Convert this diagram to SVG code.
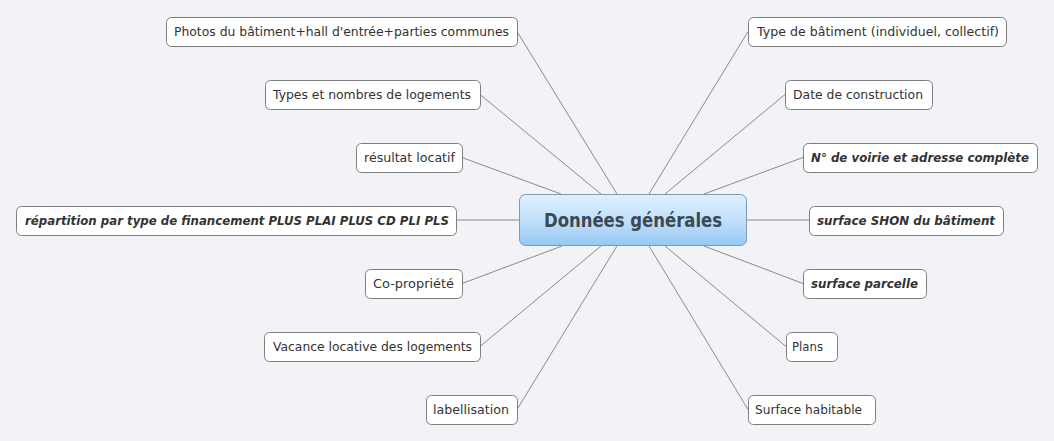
<svg xmlns="http://www.w3.org/2000/svg" width="1054" height="441" viewBox="0 0 1054 441">
<defs>
<linearGradient id="cg" x1="0" y1="0" x2="0" y2="1">
<stop offset="0" stop-color="#def0fd"/>
<stop offset="0.5" stop-color="#c2e0fa"/>
<stop offset="1" stop-color="#96c7f3"/>
</linearGradient>
</defs>
<style>
.bg{fill:#f1f3f6}
.box{fill:#ffffff;stroke:#7e7e7e;stroke-width:1}
.t{font-family:"DejaVu Sans","Noto Sans",sans-serif;font-size:13px;fill:#333333}
.bi{font-weight:bold;font-style:italic}
.cbox{fill:url(#cg);stroke:#7d9ab6;stroke-width:1}
.ct{font-family:"DejaVu Sans","Noto Sans",sans-serif;font-size:19px;font-weight:bold;fill:#3b4855}
.c line{stroke:#8a8a8a;stroke-width:1}
</style>
<rect class="bg" x="0" y="0" width="1054" height="441"/>
<g class="c" id="connectors">
<line x1="517" y1="31.5" x2="617" y2="194"/>
<line x1="480" y1="94.5" x2="601" y2="194"/>
<line x1="462" y1="157.5" x2="561" y2="194"/>
<line x1="456" y1="220" x2="519" y2="220"/>
<line x1="462" y1="283.5" x2="562" y2="246"/>
<line x1="480" y1="346.5" x2="601" y2="246"/>
<line x1="517" y1="409.5" x2="617" y2="246"/>
<line x1="748" y1="31.5" x2="649" y2="194"/>
<line x1="785" y1="94.5" x2="665" y2="194"/>
<line x1="803" y1="157.5" x2="704" y2="194"/>
<line x1="809" y1="220" x2="747" y2="220"/>
<line x1="803" y1="283.5" x2="704" y2="246"/>
<line x1="786" y1="346.5" x2="665" y2="246"/>
<line x1="748" y1="409.5" x2="649" y2="246"/>
</g>
<g id="center">
<rect class="cbox" x="519.5" y="194.5" width="227" height="51" rx="6"/>
<text class="ct" x="544" y="227" textLength="178" lengthAdjust="spacingAndGlyphs">Données générales</text>
</g>
<g id="n-photos">
<rect class="box" x="166.5" y="17.5" width="351" height="29" rx="5"/>
<text class="t" x="174" y="36" textLength="335" lengthAdjust="spacingAndGlyphs">Photos du bâtiment+hall d'entrée+parties communes</text>
</g>
<g id="n-types">
<rect class="box" x="265.5" y="80.5" width="215" height="29" rx="5"/>
<text class="t" x="273" y="99" textLength="198" lengthAdjust="spacingAndGlyphs">Types et nombres de logements</text>
</g>
<g id="n-resultat">
<rect class="box" x="356.5" y="143.5" width="106" height="29" rx="5"/>
<text class="t" x="364" y="162" textLength="91" lengthAdjust="spacingAndGlyphs">résultat locatif</text>
</g>
<g id="n-repartition">
<rect class="box" x="16.5" y="206.5" width="440" height="29" rx="5"/>
<text class="t bi" x="25" y="225" textLength="424" lengthAdjust="spacingAndGlyphs">répartition par type de financement PLUS PLAI PLUS CD PLI PLS</text>
</g>
<g id="n-copro">
<rect class="box" x="365.5" y="269.5" width="97" height="29" rx="5"/>
<text class="t" x="373" y="288" textLength="81" lengthAdjust="spacingAndGlyphs">Co-propriété</text>
</g>
<g id="n-vacance">
<rect class="box" x="264.5" y="332.5" width="216" height="29" rx="5"/>
<text class="t" x="273" y="351" textLength="199" lengthAdjust="spacingAndGlyphs">Vacance locative des logements</text>
</g>
<g id="n-label">
<rect class="box" x="426.5" y="395.5" width="91" height="29" rx="5"/>
<text class="t" x="433" y="414" textLength="76" lengthAdjust="spacingAndGlyphs">labellisation</text>
</g>
<g id="n-typebat">
<rect class="box" x="748.5" y="17.5" width="258" height="29" rx="5"/>
<text class="t" x="757" y="36" textLength="242" lengthAdjust="spacingAndGlyphs">Type de bâtiment (individuel, collectif)</text>
</g>
<g id="n-date">
<rect class="box" x="785.5" y="80.5" width="147" height="29" rx="5"/>
<text class="t" x="793" y="99" textLength="130" lengthAdjust="spacingAndGlyphs">Date de construction</text>
</g>
<g id="n-voirie">
<rect class="box" x="803.5" y="143.5" width="234" height="29" rx="5"/>
<text class="t bi" x="811" y="162" textLength="218" lengthAdjust="spacingAndGlyphs">N° de voirie et adresse complète</text>
</g>
<g id="n-shon">
<rect class="box" x="809.5" y="206.5" width="194" height="29" rx="5"/>
<text class="t bi" x="817" y="225" textLength="178" lengthAdjust="spacingAndGlyphs">surface SHON du bâtiment</text>
</g>
<g id="n-parcelle">
<rect class="box" x="803.5" y="269.5" width="123" height="29" rx="5"/>
<text class="t bi" x="811" y="288" textLength="107" lengthAdjust="spacingAndGlyphs">surface parcelle</text>
</g>
<g id="n-plans">
<rect class="box" x="786.5" y="332.5" width="51" height="29" rx="5"/>
<text class="t" x="792" y="351" textLength="31" lengthAdjust="spacingAndGlyphs">Plans</text>
</g>
<g id="n-surfhab">
<rect class="box" x="748.5" y="395.5" width="127" height="29" rx="5"/>
<text class="t" x="755" y="414" textLength="107" lengthAdjust="spacingAndGlyphs">Surface habitable</text>
</g>
</svg>
